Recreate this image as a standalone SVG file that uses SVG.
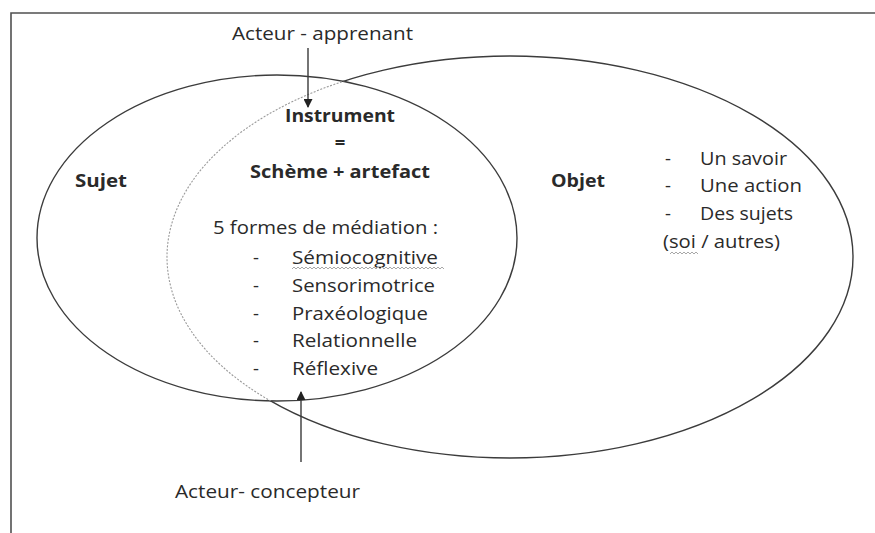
<svg xmlns="http://www.w3.org/2000/svg" width="875" height="533" viewBox="0 0 875 533">
<style>
  .t { font-family: "Open Sans", "Liberation Sans", sans-serif; font-size: 18.5px; fill: #2a2a2a; }
  .b { font-weight: bold; }
  .m { text-anchor: middle; }
  .ell { fill: none; stroke: #3c3c3c; stroke-width: 1.4; }
  .light { fill: none; stroke: #9a9a9a; stroke-width: 1.1; stroke-dasharray: 2 1.5; }
  .frame { fill: none; stroke: #505050; stroke-width: 1.6; }
  .conn { stroke: #3a3a3a; stroke-width: 1.4; fill: none; }
  .squig { fill: none; stroke: #a8a8a8; stroke-width: 1; }
</style>
<defs>
  <marker id="arr" viewBox="0 0 10 10" refX="9" refY="5" markerWidth="10" markerHeight="9" orient="auto" markerUnits="userSpaceOnUse">
    <path d="M0,0 L10,5 L0,10 Z" fill="#222"/>
  </marker>
  <clipPath id="outsideL">
    <path clip-rule="evenodd" d="M0 0 H875 V533 H0 Z M37 238 A240 163 0 1 0 517 238 A240 163 0 1 0 37 238 Z"/>
  </clipPath>
  <clipPath id="insideL">
    <ellipse cx="277" cy="238" rx="240" ry="163"/>
  </clipPath>
</defs>
<rect x="0" y="0" width="875" height="533" fill="#ffffff"/>

<g id="frame">
  <path class="frame" d="M11 533 V13 H875"/>
</g>

<g id="sujet">
  <ellipse class="ell" cx="277" cy="238" rx="240" ry="163"/>
  <text class="t b" x="75" y="187" textLength="52" lengthAdjust="spacingAndGlyphs">Sujet</text>
</g>

<g id="objet">
  <ellipse class="ell" cx="510" cy="257" rx="343" ry="201" clip-path="url(#outsideL)"/>
  <ellipse class="light" cx="510" cy="257" rx="343" ry="201" clip-path="url(#insideL)"/>
  <text class="t b" x="551" y="187" textLength="54" lengthAdjust="spacingAndGlyphs">Objet</text>
  <text class="t" x="665" y="165">-</text>
  <text class="t" x="700" y="165" textLength="87" lengthAdjust="spacingAndGlyphs">Un savoir</text>
  <text class="t" x="665" y="192">-</text>
  <text class="t" x="700" y="192" textLength="102" lengthAdjust="spacingAndGlyphs">Une action</text>
  <text class="t" x="665" y="220">-</text>
  <text class="t" x="700" y="220" textLength="93" lengthAdjust="spacingAndGlyphs">Des sujets</text>
  <text class="t" x="663" y="248" textLength="117" lengthAdjust="spacingAndGlyphs">(soi / autres)</text>
  <path class="squig" d="M670 254 l2 -2 l2 2 l2 -2 l2 2 l2 -2 l2 2 l2 -2 l2 2 l2 -2 l2 2 l2 -2 l2 2 l2 -2 l2 2"/>
</g>

<g id="instrument">
  <text class="t b m" x="340" y="122" textLength="110" lengthAdjust="spacingAndGlyphs">Instrument</text>
  <text class="t b m" x="340" y="149">=</text>
  <text class="t b m" x="340" y="178" textLength="180" lengthAdjust="spacingAndGlyphs">Schème + artefact</text>
  <text class="t" x="213" y="234" textLength="225" lengthAdjust="spacingAndGlyphs">5 formes de médiation :</text>
  <text class="t" x="253" y="264">-</text>
  <text class="t" x="292" y="264" textLength="146" lengthAdjust="spacingAndGlyphs">Sémiocognitive</text>
  <path class="squig" d="M292 269 l2 -2 l2 2 l2 -2 l2 2 l2 -2 l2 2 l2 -2 l2 2 l2 -2 l2 2 l2 -2 l2 2 l2 -2 l2 2 l2 -2 l2 2 l2 -2 l2 2 l2 -2 l2 2 l2 -2 l2 2 l2 -2 l2 2 l2 -2 l2 2 l2 -2 l2 2 l2 -2 l2 2 l2 -2 l2 2 l2 -2 l2 2 l2 -2 l2 2 l2 -2 l2 2 l2 -2 l2 2 l2 -2 l2 2 l2 -2 l2 2 l2 -2 l2 2 l2 -2 l2 2 l2 -2 l2 2 l2 -2 l2 2 l2 -2 l2 2 l2 -2 l2 2 l2 -2 l2 2 l2 -2 l2 2 l2 -2 l2 2 l2 -2 l2 2 l2 -2 l2 2 l2 -2 l2 2 l2 -2 l2 2 l2 -2 l2 2 l2 -2 l2 2 l2 -2 l2 2"/>
  <text class="t" x="253" y="292">-</text>
  <text class="t" x="292" y="292" textLength="143" lengthAdjust="spacingAndGlyphs">Sensorimotrice</text>
  <text class="t" x="253" y="320">-</text>
  <text class="t" x="292" y="320" textLength="136" lengthAdjust="spacingAndGlyphs">Praxéologique</text>
  <text class="t" x="253" y="347">-</text>
  <text class="t" x="292" y="347" textLength="125" lengthAdjust="spacingAndGlyphs">Relationnelle</text>
  <text class="t" x="253" y="375">-</text>
  <text class="t" x="292" y="375" textLength="86" lengthAdjust="spacingAndGlyphs">Réflexive</text>
</g>

<g id="acteur-apprenant">
  <text class="t" x="232" y="40" textLength="181" lengthAdjust="spacingAndGlyphs">Acteur - apprenant</text>
</g>

<g id="acteur-concepteur">
  <text class="t" x="175" y="498" textLength="185" lengthAdjust="spacingAndGlyphs">Acteur- concepteur</text>
</g>

<g id="connectors">
  <line class="conn" x1="308" y1="48" x2="308" y2="107" marker-end="url(#arr)"/>
  <line class="conn" x1="301" y1="462" x2="301" y2="392" marker-end="url(#arr)"/>
</g>
</svg>
